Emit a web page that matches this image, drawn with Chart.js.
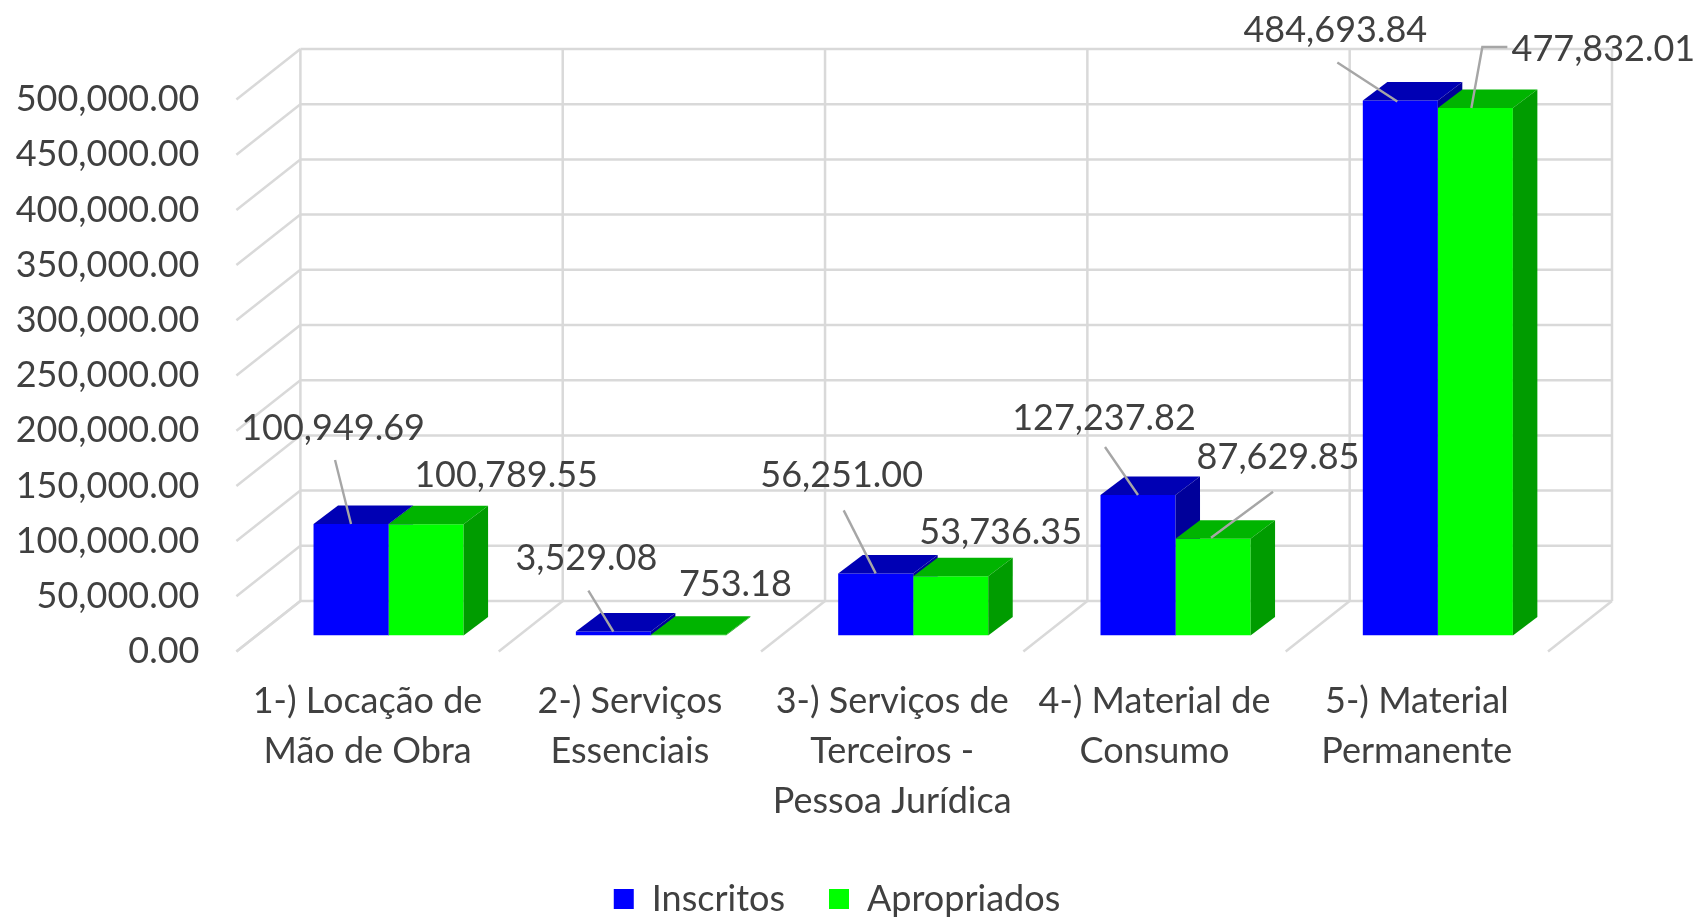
<!DOCTYPE html>
<html>
<head>
<meta charset="utf-8">
<script src="https://cdn.jsdelivr.net/npm/chart.js@4"></script>
<style>
  html, body { margin: 0; padding: 0; background: #fff; }
  canvas { display: block; }
</style>
</head>
<body>
<canvas id="chart" width="1706" height="918"></canvas>
<script>
(() => {
    const categories = [
        ["1-) Locação de", "Mão de Obra"],
        ["2-) Serviços", "Essenciais"],
        ["3-) Serviços de", "Terceiros -", "Pessoa Jurídica"],
        ["4-) Material de", "Consumo"],
        ["5-) Material", "Permanente"],
    ];
    const inscritos = [100949.69, 3529.08, 56251.0, 127237.82, 484693.84];
    const apropriados = [100789.55, 753.18, 53736.35, 87629.85, 477832.01];
    const yMin = 0;
    const yMax = 500000;
    const yStep = 50000;

    // hand placed data labels (offset from the bar's front top centre)
    const labelOffsets = [
        [[-18, -96], [-27, -73], [-34, -98], [-34, -77], [-65, -70]],
        [[80, -49], [47, -50], [50, -44], [65, -81], [128, -59]],
    ];
    const leaders = [
        [[[-16, -64], [0, 0]], [[-25, -41], [0, 0]], [[-32, -63], [0, 0]], [[-33, -48], [0, 0]], [[-63, -38], [-3, 1]]],
        [null, null, null, [[60, -47], [-2, -1]], [[32, -61], [7, -61], [-4, 0]]],
    ];

    const FONT = "Lato, 'Open Sans', sans-serif";
    const TEXT = "#404040";
    const GRID = "#d9d9d9";
    const FRONT = { dx: -21, dy: 16 };
    const BACK = { dx: 43, dy: -34.5 };
    const DEPTH = { dx: 24.5, dy: -18.5 };
    const LEGEND_CENTER = 837;
    const faces = [
        { top: "#0000b4", side: "#00009a" },
        { top: "#00b400", side: "#009c00" },
    ];

    const fmt = (v) => v.toLocaleString("en-US", { minimumFractionDigits: 2, maximumFractionDigits: 2 });

    function line(ctx, x1, y1, x2, y2) {
        ctx.beginPath();
        ctx.moveTo(x1, y1);
        ctx.lineTo(x2, y2);
        ctx.stroke();
    }
    function poly(ctx, pts, color) {
        ctx.beginPath();
        ctx.moveTo(pts[0][0], pts[0][1]);
        pts.slice(1).forEach((p) => ctx.lineTo(p[0], p[1]));
        ctx.closePath();
        ctx.fillStyle = color;
        ctx.fill();
    }
    function box(el) {
        const p = el.getProps(["x", "y", "base", "width"], true);
        return { l: p.x - p.width / 2, r: p.x + p.width / 2, t: Math.min(p.y, p.base), b: Math.max(p.y, p.base), x: p.x, y: p.y };
    }

    const grid3d = {
        id: "grid3d",
        afterLayout(chart) {
            // legend sits off-centre in the original
            const lg = chart.legend;
            const shift = LEGEND_CENTER - (lg.left + lg.right) / 2;
            lg.left += shift;
            lg.right += shift;
        },
        beforeDatasetsDraw(chart) {
            const { ctx, chartArea, scales } = chart;
            const x = scales.x, y = scales.y;
            ctx.save();
            ctx.strokeStyle = GRID;
            ctx.lineWidth = 2.5;
            y.ticks.forEach((t) => {
                const py = y.getPixelForValue(t.value);
                line(ctx, chartArea.left + FRONT.dx, py + FRONT.dy, chartArea.left + BACK.dx, py + BACK.dy);
                line(ctx, chartArea.left + BACK.dx, py + BACK.dy, chartArea.right + BACK.dx, py + BACK.dy);
            });
            const y0 = y.getPixelForValue(yMin);
            const yTop = y.getPixelForValue(yMax);
            for (let i = 0; i <= categories.length; i++) {
                const bx = x.getPixelForValue(i - 0.5);
                line(ctx, bx + BACK.dx, yTop + BACK.dy, bx + BACK.dx, y0 + BACK.dy);
                line(ctx, bx + FRONT.dx, y0 + FRONT.dy, bx + BACK.dx, y0 + BACK.dy);
            }
            ctx.restore();
        },
        afterDatasetsDraw(chart) {
            const { ctx } = chart;
            const metaB = chart.getDatasetMeta(0);
            const metaG = chart.getDatasetMeta(1);
            categories.forEach((c, i) => {
                const b = box(metaB.data[i]);
                const g = box(metaG.data[i]);
                [b, g].forEach((k, di) => {
                    ctx.save();
                    poly(ctx, [[k.l, k.t], [k.r, k.t], [k.r + DEPTH.dx, k.t + DEPTH.dy], [k.l + DEPTH.dx, k.t + DEPTH.dy]], faces[di].top);
                    if (di === 0) {
                        ctx.beginPath();
                        ctx.rect(0, 0, chart.width, chart.height);
                        ctx.rect(g.l, g.t, g.r - g.l, g.b - g.t);
                        ctx.clip("evenodd");
                    }
                    poly(ctx, [[k.r, k.t], [k.r + DEPTH.dx, k.t + DEPTH.dy], [k.r + DEPTH.dx, k.b + DEPTH.dy], [k.r, k.b]], faces[di].side);
                    ctx.restore();
                });
            });
        },
        afterDraw(chart) {
            const { ctx } = chart;
            ctx.save();
            ctx.font = "36px " + FONT;
            ctx.fillStyle = TEXT;
            ctx.textAlign = "center";
            ctx.textBaseline = "middle";
            ctx.strokeStyle = "#a6a6a6";
            ctx.lineWidth = 2.4;
            chart.data.datasets.forEach((ds, di) => {
                const meta = chart.getDatasetMeta(di);
                ds.data.forEach((v, i) => {
                    const k = box(meta.data[i]);
                    const ld = leaders[di][i];
                    if (ld) {
                        ctx.beginPath();
                        ld.forEach((p, j) => (j ? ctx.lineTo(k.x + p[0], k.y + p[1]) : ctx.moveTo(k.x + p[0], k.y + p[1])));
                        ctx.stroke();
                    }
                    const o = labelOffsets[di][i];
                    ctx.fillText(fmt(v), k.x + o[0], k.y + o[1]);
                });
            });
            ctx.restore();
        },
    };

    new Chart(document.getElementById("chart"), {
        type: "bar",
        data: {
            labels: categories,
            datasets: [
                { label: "Inscritos", data: inscritos, backgroundColor: "#0000ff" },
                { label: "Apropriados", data: apropriados, backgroundColor: "#00ff00" },
            ],
        },
        options: {
            responsive: false,
            animation: false,
            categoryPercentage: 0.572,
            barPercentage: 1.0,
            layout: { padding: { left: 0, right: 137, top: 83.5, bottom: -9 } },
            scales: {
                x: {
                    grid: { display: false },
                    border: { display: false },
                    afterFit: (s) => { s.height = 201.5; },
                    ticks: {
                        color: TEXT,
                        font: { family: FONT, size: 36, lineHeight: 50 / 36 },
                        padding: 32.5,
                        labelOffset: FRONT.dx,
                        maxRotation: 0,
                        autoSkip: false,
                    },
                },
                y: {
                    min: yMin,
                    max: yMax,
                    grid: { display: false },
                    border: { display: false },
                    afterFit: (s) => { s.width = 257.4; },
                    ticks: {
                        stepSize: yStep,
                        color: TEXT,
                        font: { family: FONT, size: 36 },
                        padding: 50,
                        labelOffset: FRONT.dy,
                        callback: (v) => fmt(v),
                    },
                },
            },
            plugins: {
                tooltip: { enabled: false },
                legend: {
                    position: "bottom",
                    labels: {
                        color: TEXT,
                        font: { family: FONT, size: 36 },
                        boxWidth: 20,
                        boxHeight: 20,
                        padding: 44,
                    },
                },
            },
        },
        plugins: [grid3d],
    });
})();
</script>
</body>
</html>
